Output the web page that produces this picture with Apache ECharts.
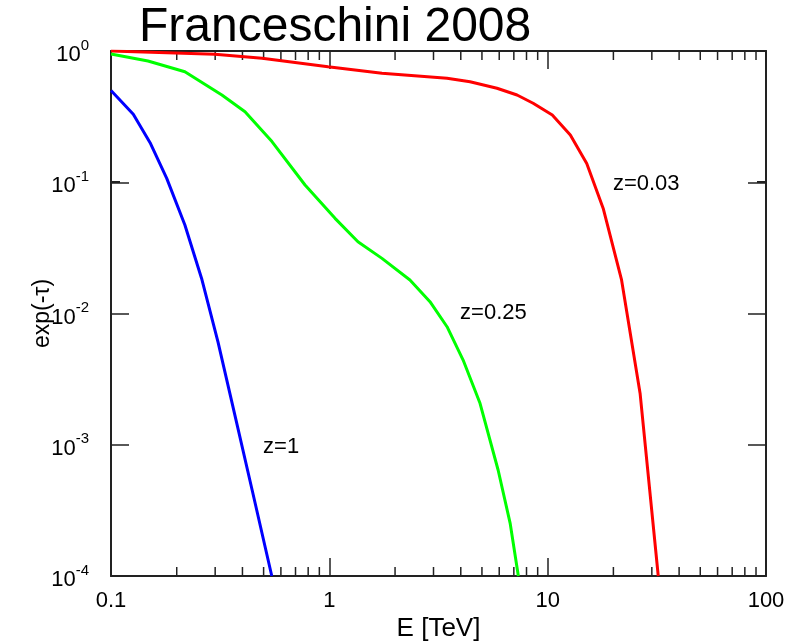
<!DOCTYPE html>
<html>
<head>
<meta charset="utf-8">
<script src="https://cdn.jsdelivr.net/npm/echarts@6/dist/echarts.min.js"></script>
<style>
html,body{margin:0;padding:0;background:#fff;}
#main{width:812px;height:644px;}
</style>
</head>
<body>
<div id="main"></div>
<script>
// Energy [TeV] and exp(-tau) values
const blueE = [0.1, 0.1265, 0.151, 0.180, 0.218, 0.260, 0.309, 0.370, 0.443, 0.545];
const blueV = [0.50, 0.330, 0.200, 0.107, 0.0472, 0.0185, 0.00607, 0.00166, 0.000452, 0.0001];

const greenE = [0.1, 0.1477, 0.218, 0.322, 0.411, 0.546, 0.774, 1.062, 1.352, 1.742, 2.34, 2.89, 3.46, 4.10, 4.90, 5.93, 6.73, 7.34];
const greenV = [0.949, 0.839, 0.695, 0.462, 0.345, 0.204, 0.0953, 0.0531, 0.0352, 0.0263, 0.0180, 0.0123, 0.00793, 0.00442, 0.00207, 0.000642, 0.000253, 0.0001];

const redE = [0.1, 0.299, 0.492, 0.986, 1.742, 3.46, 4.41, 5.86, 7.24, 8.58, 10.5, 12.7, 15.1, 18.0, 21.8, 26.5, 32.1];
const redV = [1.0, 0.944, 0.880, 0.759, 0.676, 0.619, 0.583, 0.520, 0.462, 0.400, 0.325, 0.229, 0.139, 0.0625, 0.0180, 0.00247, 0.0001];

const labelText = ['z=0.03', 'z=0.25', 'z=1'];
const labelE = [19.9, 3.97, 0.497];
const labelV = [0.097, 0.0101, 0.00096];

const xMinorTicks = [0.2,0.3,0.4,0.5,0.6,0.7,0.8,0.9, 2,3,4,5,6,7,8,9, 20,30,40,50,60,70,80,90];
const yMinorTicks = [0.0002,0.0003,0.0004,0.0005,0.0006,0.0007,0.0008,0.0009,
                     0.002,0.003,0.004,0.005,0.006,0.007,0.008,0.009,
                     0.02,0.03,0.04,0.05,0.06,0.07,0.08,0.09,
                     0.2,0.3,0.4,0.5,0.6,0.7,0.8,0.9];

const FONT = 'Liberation Sans';
const AXC = '#222';
const pair = (xs, ys) => xs.map((x, i) => [x, ys[i]]);

const chart = echarts.init(document.getElementById('main'));

const axisCommon = {
  type: 'log', logBase: 10,
  axisLine: { show: true, onZero: false, lineStyle: { color: AXC, width: 2 } },
  axisTick: { show: true, inside: true, length: 18, lineStyle: { color: AXC, width: 1.5 } },
  splitLine: { show: false },
  minorTick: { show: false }
};

const MINOR = 9;
function tickItem(isX) {
  return function (params, api) {
    const v = api.value(0);
    const children = [];
    if (isX) {
      const b = api.coord([v, 1e-4]);
      const t = api.coord([v, 1]);
      children.push({ type: 'line', shape: { x1: b[0], y1: b[1], x2: b[0], y2: b[1] - MINOR }, style: { stroke: AXC, lineWidth: 1.5 } });
      children.push({ type: 'line', shape: { x1: t[0], y1: t[1], x2: t[0], y2: t[1] + MINOR }, style: { stroke: AXC, lineWidth: 1.5 } });
    } else {
      const l = api.coord([0.1, v]);
      const r = api.coord([100, v]);
      children.push({ type: 'line', shape: { x1: l[0], y1: l[1], x2: l[0] + MINOR, y2: l[1] }, style: { stroke: AXC, lineWidth: 1.5 } });
      children.push({ type: 'line', shape: { x1: r[0], y1: r[1], x2: r[0] - MINOR, y2: r[1] }, style: { stroke: AXC, lineWidth: 1.5 } });
    }
    return { type: 'group', children: children };
  };
}

const lineSeries = (name, data, color) => ({
  name: name, type: 'line', data: data, showSymbol: false, symbol: 'none',
  lineStyle: { color: color, width: 3 }, smooth: false, animation: false, z: 3
});

chart.setOption({
  animation: false,
  backgroundColor: '#fff',
  textStyle: { fontFamily: FONT },
  title: {
    text: 'Franceschini 2008', left: 134, top: -1,
    textStyle: { fontFamily: FONT, fontSize: 48, fontWeight: 'normal', color: '#000' }
  },
  grid: { left: 111, right: 46, top: 51, bottom: 68, containLabel: false, outerBoundsMode: 'none' },
  xAxis: [
    Object.assign({}, axisCommon, {
      position: 'bottom', min: 0.1, max: 100,
      name: 'E [TeV]', nameLocation: 'middle', nameGap: 40, nameMoveOverlap: false,
      nameTextStyle: { fontFamily: FONT, fontSize: 26, color: '#000' },
      axisLabel: { show: true, fontFamily: FONT, fontSize: 22, color: '#000', margin: 14,
        formatter: v => String(v) }
    }),
    Object.assign({}, axisCommon, { position: 'top', min: 0.1, max: 100, axisLabel: { show: false } })
  ],
  yAxis: [
    Object.assign({}, axisCommon, {
      position: 'left', min: 1e-4, max: 1,
      name: 'exp(-τ)', nameLocation: 'middle', nameGap: 57, nameRotate: 90, nameMoveOverlap: false,
      nameTextStyle: { fontFamily: FONT, fontSize: 23, color: '#000' },
      axisLabel: { show: true, margin: 22, color: '#000',
        formatter: v => '{b|10}{s|' + Math.round(Math.log10(v)) + '}',
        rich: {
          b: { fontFamily: FONT, fontSize: 22, color: '#000', lineHeight: 26, padding: [8, 0, 0, 0] },
          s: { fontFamily: FONT, fontSize: 15, color: '#000', verticalAlign: 'top', lineHeight: 16 }
        }
      }
    }),
    Object.assign({}, axisCommon, { position: 'right', min: 1e-4, max: 1, axisLabel: { show: false } })
  ],
  series: [
    lineSeries('z=0.03', pair(redE, redV), '#ff0000'),
    lineSeries('z=0.25', pair(greenE, greenV), '#00ff00'),
    lineSeries('z=1', pair(blueE, blueV), '#0000ff'),
    {
      type: 'scatter', symbolSize: 0, silent: true,
      data: labelText.map((t, i) => ({ name: t, value: [labelE[i], labelV[i]] })),
      label: { show: true, position: 'right', distance: 0, formatter: p => p.name,
        fontFamily: FONT, fontSize: 22, color: '#000', textBorderWidth: 0, opacity: 1 },
      itemStyle: { opacity: 1 }
    },
    { type: 'custom', renderItem: tickItem(true), data: xMinorTicks.map(v => [v]), clip: false, silent: true, encode: { x: 0 } },
    { type: 'custom', renderItem: tickItem(false), data: yMinorTicks.map(v => [0.1, v]), clip: false, silent: true, encode: { x: 0, y: 1 } }
  ]
});
</script>
</body>
</html>
